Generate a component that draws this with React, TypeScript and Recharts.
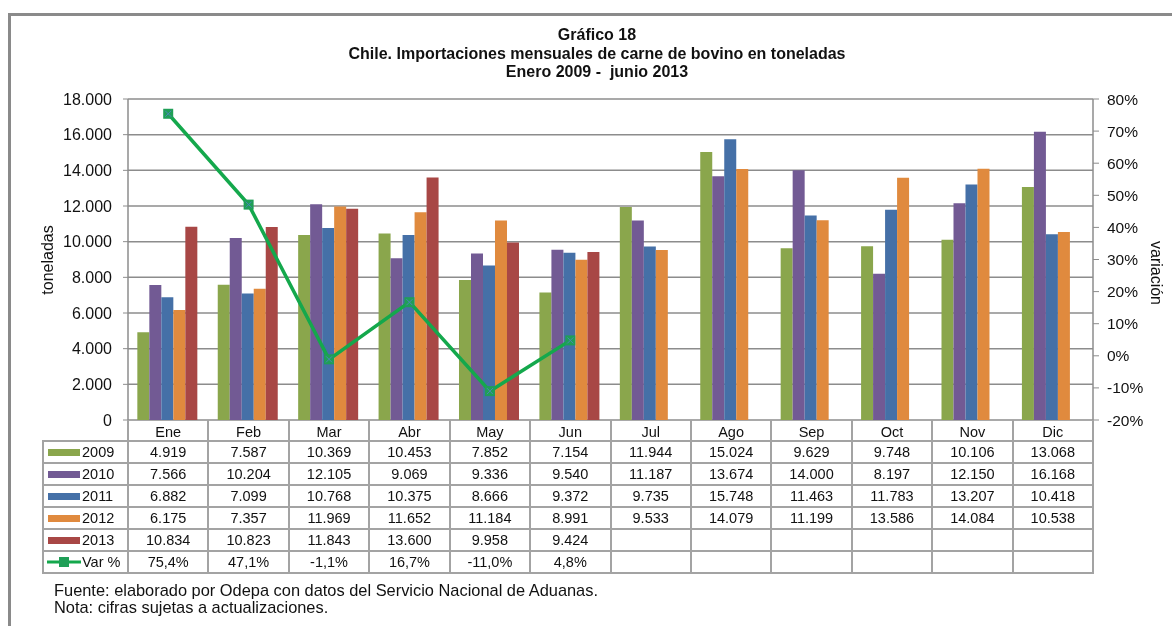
import { ComposedChart, Bar, Line, XAxis, YAxis, CartesianGrid } from 'recharts';

const months = ['Ene', 'Feb', 'Mar', 'Abr', 'May', 'Jun', 'Jul', 'Ago', 'Sep', 'Oct', 'Nov', 'Dic'];

const y2009 = [4919, 7587, 10369, 10453, 7852, 7154, 11944, 15024, 9629, 9748, 10106, 13068];
const y2010 = [7566, 10204, 12105, 9069, 9336, 9540, 11187, 13674, 14000, 8197, 12150, 16168];
const y2011 = [6882, 7099, 10768, 10375, 8666, 9372, 9735, 15748, 11463, 11783, 13207, 10418];
const y2012 = [6175, 7357, 11969, 11652, 11184, 8991, 9533, 14079, 11199, 13586, 14084, 10538];
const y2013 = [10834, 10823, 11843, 13600, 9958, 9424, null, null, null, null, null, null];
const varPct = [75.4, 47.1, -1.1, 16.7, -11.0, 4.8, null, null, null, null, null, null];

const leftTicks = [0, 2000, 4000, 6000, 8000, 10000, 12000, 14000, 16000, 18000];
const rightTicks = [-20, -10, 0, 10, 20, 30, 40, 50, 60, 70, 80];

const series = [
  { key: 'y2009', name: '2009', values: y2009, color: '#8aa64c' },
  { key: 'y2010', name: '2010', values: y2010, color: '#725a94' },
  { key: 'y2011', name: '2011', values: y2011, color: '#4570a7' },
  { key: 'y2012', name: '2012', values: y2012, color: '#e08a3e' },
  { key: 'y2013', name: '2013', values: y2013, color: '#a84745' },
];

const data = months.map((m, i) => ({
  month: m,
  y2009: y2009[i],
  y2010: y2010[i],
  y2011: y2011[i],
  y2012: y2012[i],
  y2013: y2013[i],
  varPct: varPct[i],
}));

const thousands = (v: number) => String(v).replace(/\B(?=(\d{3})+(?!\d))/g, '.');
const pct = (v: number) => v.toFixed(1).replace('.', ',') + '%';

const FONT = '"Liberation Sans", Arial, sans-serif';
const GRID = '#8c8c8c';
const TABLE_LINE = '#a3a3a3';
const LINE_GREEN = '#14a84c';

// layout (container coords = page - 8)
const W = 1156;
const PLOT_L = 120;
const PLOT_R = 1085;
const PLOT_B = 412;
const COL_W = (PLOT_R - PLOT_L) / 12;
const LEG_L = 35;
const HEAD_H = 21;
const ROW_H = 22;

const VarDot = (props: any) => {
  const { cx, cy, value } = props;
  if (value == null || cx == null || cy == null) return null;
  return (
    <g>
      <rect x={cx - 5} y={cy - 5} width={10} height={10} fill="#1f9f57" />
      <path d={`M${cx - 3},${cy - 3}L${cx + 3},${cy + 3}M${cx + 3},${cy - 3}L${cx - 3},${cy + 3}`} stroke="#4a86b8" strokeWidth={1} />
    </g>
  );
};

const cellText: React.CSSProperties = {
  position: 'absolute',
  fontFamily: FONT,
  fontSize: 14.5,
  color: '#111',
  display: 'flex',
  alignItems: 'center',
  justifyContent: 'center',
  boxSizing: 'border-box',
};

const DataTable = () => {
  const rows = [
    ...series.map((s) => ({ label: s.name, color: s.color, cells: s.values.map((v) => (v == null ? '' : thousands(v))), isLine: false })),
    { label: 'Var %', color: LINE_GREEN, cells: varPct.map((v) => (v == null ? '' : pct(v))), isLine: true },
  ];
  const bodyTop = PLOT_B + HEAD_H;
  const bodyBottom = bodyTop + rows.length * ROW_H;
  const lines: JSX.Element[] = [];
  for (let i = 0; i <= 12; i++) {
    lines.push(
      <div key={'v' + i} style={{ position: 'absolute', left: PLOT_L + i * COL_W - 1, top: PLOT_B, width: 2, height: bodyBottom - PLOT_B, background: TABLE_LINE }} />
    );
  }
  lines.push(<div key="vl" style={{ position: 'absolute', left: LEG_L - 1, top: bodyTop, width: 2, height: bodyBottom - bodyTop, background: TABLE_LINE }} />);
  for (let r = 0; r <= rows.length; r++) {
    const y = bodyTop + r * ROW_H;
    lines.push(<div key={'h' + r} style={{ position: 'absolute', left: LEG_L - 1, top: y - 1, width: PLOT_R - LEG_L + 2, height: 2, background: TABLE_LINE }} />);
  }
  return (
    <>
      {lines}
      {months.map((m, i) => (
        <div key={'m' + m} style={{ ...cellText, left: PLOT_L + i * COL_W, top: PLOT_B + 1, width: COL_W, height: HEAD_H }}>
          {m}
        </div>
      ))}
      {rows.map((row, r) => (
        <div key={'r' + r}>
          <div style={{ position: 'absolute', left: LEG_L, top: bodyTop + r * ROW_H, width: PLOT_L - LEG_L, height: ROW_H, display: 'flex', alignItems: 'center' }}>
            {row.isLine ? (
              <svg width={34} height={10} style={{ marginLeft: 4, marginRight: 1 }}>
                <line x1={0} y1={5} x2={34} y2={5} stroke={LINE_GREEN} strokeWidth={3} />
                <rect x={12} y={0} width={10} height={10} fill="#1f9f57" />
              </svg>
            ) : (
              <div style={{ marginLeft: 5, width: 32, height: 7, background: row.color, marginRight: 2 }} />
            )}
            <span style={{ fontFamily: FONT, fontSize: 14.5, color: '#111' }}>{row.label}</span>
          </div>
          {row.cells.map((c, i) => (
            <div key={i} style={{ ...cellText, left: PLOT_L + i * COL_W, top: bodyTop + r * ROW_H, width: COL_W, height: ROW_H }}>
              {c}
            </div>
          ))}
        </div>
      ))}
    </>
  );
};

export default function App() {
  return (
    <>
      <div style={{ position: 'fixed', left: 8, top: 13, right: 0, bottom: 0, borderLeft: '3px solid #8a8a8a', borderTop: '3px solid #8a8a8a', pointerEvents: 'none' }} />
      <div style={{ position: 'relative', width: W, height: 610, overflow: 'hidden' }}>
        <div style={{ position: 'absolute', left: 239, top: 18, width: 700, textAlign: 'center', fontFamily: FONT, fontWeight: 'bold', fontSize: 16, lineHeight: '18.5px', color: '#111' }}>
          <div>Gráfico 18</div>
          <div>Chile. Importaciones mensuales de carne de bovino en toneladas</div>
          <div style={{ whiteSpace: 'pre' }}>Enero 2009 -  junio 2013</div>
        </div>
        <div style={{ position: 'absolute', left: 40 - 60, top: 252 - 8, width: 120, height: 16, textAlign: 'center', transform: 'rotate(-90deg)', fontFamily: FONT, fontSize: 16, lineHeight: '16px', color: '#111' }}>
          toneladas
        </div>
        <div style={{ position: 'absolute', left: 1148 - 60, top: 265 - 8, width: 120, height: 16, textAlign: 'center', transform: 'rotate(90deg)', fontFamily: FONT, fontSize: 16, lineHeight: '16px', color: '#111' }}>
          variación
        </div>
        <div style={{ position: 'absolute', left: 0, top: 0 }}>
          <ComposedChart
            width={W}
            height={440}
            data={data}
            margin={{ top: 91, right: 0, bottom: 28, left: 0 }}
            barCategoryGap="11.6%"
            barGap={0}
          >
            <CartesianGrid yAxisId="left" vertical={false} stroke={GRID} strokeWidth={1.5} ticks={leftTicks} />
            <XAxis dataKey="month" hide />
            <YAxis
              yAxisId="left"
              width={PLOT_L}
              domain={[0, 18000]}
              ticks={leftTicks}
              interval={0}
              tickFormatter={thousands}
              tick={{ fontFamily: FONT, fontSize: 16, fill: '#111' }}
              axisLine={{ stroke: GRID, strokeWidth: 1.5 }}
              tickLine={{ stroke: GRID }}
              tickSize={5}
              tickMargin={11}
            />
            <YAxis
              yAxisId="right"
              orientation="right"
              width={W - PLOT_R}
              domain={[-20, 80]}
              ticks={rightTicks}
              interval={0}
              tickFormatter={(v: number) => `${v}%`}
              tick={{ fontFamily: FONT, fontSize: 15.5, fill: '#111' }}
              axisLine={{ stroke: GRID, strokeWidth: 1.5 }}
              tickLine={{ stroke: GRID }}
              tickSize={6}
              tickMargin={8}
            />
            {series.map((s) => (
              <Bar key={s.key} yAxisId="left" dataKey={s.key} fill={s.color} isAnimationActive={false} />
            ))}
            <Line
              yAxisId="right"
              dataKey="varPct"
              stroke={LINE_GREEN}
              strokeWidth={3.5}
              dot={<VarDot />}
              activeDot={false}
              isAnimationActive={false}
              type="linear"
            />
          </ComposedChart>
        </div>
        <DataTable />
        <div style={{ position: 'absolute', left: 46, top: 574, fontFamily: FONT, fontSize: 16.4, lineHeight: '17px', color: '#111' }}>
          <div>Fuente: elaborado por Odepa con datos del Servicio Nacional de Aduanas.</div>
          <div>Nota: cifras sujetas a actualizaciones.</div>
        </div>
      </div>
    </>
  );
}
